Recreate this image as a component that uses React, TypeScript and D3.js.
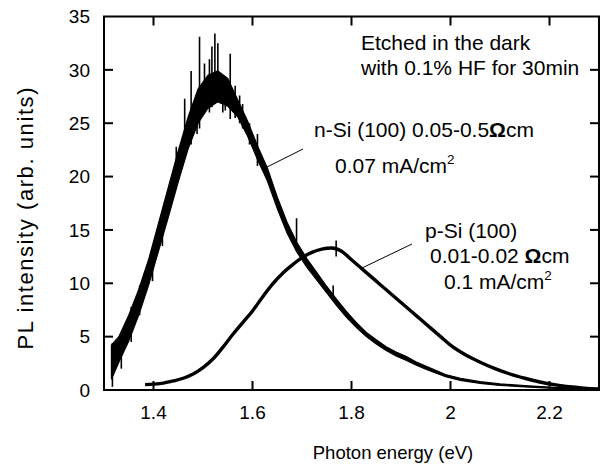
import React from "react";
import * as d3 from "d3";

// ---- data ----
const nSiE = [1.315,1.33,1.35,1.37,1.39,1.41,1.43,1.45,1.47,1.49,1.51,1.53,1.55,1.57,1.59,1.61,1.63,1.65,1.67,1.69,1.71,1.73,1.75,1.77,1.79,1.81,1.83,1.85,1.87,1.89,1.91,1.93,1.95,1.97,1.99,2.02,2.06,2.10,2.15,2.20,2.25,2.30];
const nSiLow = [1.0,2.6,4.6,7.0,9.8,13.0,16.2,19.5,22.6,25.0,26.4,27.0,26.6,25.6,23.8,21.6,19.6,17.0,14.7,12.9,11.5,10.3,9.1,7.9,6.8,5.85,5.0,4.3,3.7,3.2,2.8,2.35,1.95,1.6,1.25,0.9,0.62,0.43,0.29,0.17,0.08,0.02];
const nSiHigh = [4.2,5.0,7.0,9.4,12.2,15.6,19.0,22.4,25.6,28.2,29.5,29.9,29.2,27.2,25.2,22.9,20.8,18.1,15.7,13.8,12.3,11.0,9.7,8.5,7.35,6.3,5.4,4.7,4.05,3.55,3.15,2.65,2.25,1.85,1.45,1.1,0.78,0.57,0.41,0.27,0.16,0.08];

const spikeE = [1.317,1.335,1.355,1.372,1.398,1.418,1.446,1.463,1.476,1.488,1.493,1.503,1.513,1.518,1.524,1.530,1.540,1.545,1.555,1.565,1.574,1.580,1.594,1.610,1.689,1.763,1.769];
const spikeLo = [0.3,2.0,4.5,7.0,10.2,13.5,19.5,22.0,23.0,24.0,24.5,26.0,26.0,26.5,27.0,27.5,26.0,26.2,25.4,25.5,25.0,24.5,23.0,21.0,13.0,8.5,12.5];
const spikeHi = [4.4,5.2,7.8,9.8,13.0,16.4,22.8,27.3,29.9,27.0,33.1,30.6,31.0,32.2,33.4,32.5,29.5,29.0,31.5,28.5,27.6,26.8,25.0,24.0,16.1,9.8,14.0];

const pSiE = [1.383,1.40,1.42,1.44,1.46,1.48,1.50,1.52,1.54,1.56,1.58,1.60,1.62,1.64,1.66,1.68,1.70,1.72,1.74,1.76,1.78,1.80,1.82,1.84,1.86,1.88,1.90,1.92,1.94,1.96,1.98,2.00,2.03,2.06,2.09,2.12,2.15,2.18,2.21,2.24,2.27,2.30];
const pSiI = [0.5,0.55,0.65,0.85,1.1,1.5,2.1,2.9,4.0,5.2,6.3,7.4,8.7,9.9,10.9,11.7,12.4,12.9,13.2,13.3,13.0,12.2,11.4,10.6,9.8,9.0,8.2,7.4,6.6,5.8,5.0,4.2,3.3,2.6,2.0,1.5,1.1,0.75,0.5,0.3,0.18,0.1];

const xTicks = [1.4, 1.6, 1.8, 2.0, 2.2];
const xTickLabels = ["1.4", "1.6", "1.8", "2", "2.2"];
const yTicks = [0, 5, 10, 15, 20, 25, 30, 35];

const FONT = "'Liberation Sans', Arial, sans-serif";

export default function App() {
  const W = 602, H = 468;
  const x = d3.scaleLinear().domain([1.3, 2.3]).range([104, 599]);
  const y = d3.scaleLinear().domain([0, 35]).range([390, 16.5]);

  const nSiData = nSiE.map((e, i) => ({ e, lo: nSiLow[i], hi: nSiHigh[i] }));
  const area = d3.area<any>().x(d => x(d.e)).y0(d => y(d.lo)).y1(d => y(d.hi)).curve(d3.curveLinear);
  const pSiData = pSiE.map((e, i) => ({ e, v: pSiI[i] }));
  const line = d3.line<any>().x(d => x(d.e)).y(d => y(d.v)).curve(d3.curveMonotoneX);

  const [x0, x1] = x.range();
  const [yb, yt] = y.range();
  const tl = 9;
  const AF = 21; // annotation font
  const TF = 19; // tick font

  return (
    <div style={{ position: "absolute", left: 0, top: 0 }}>
      <svg width={W} height={H} style={{ display: "block", background: "#fff" }} fontFamily={FONT}>
        <defs>
          <clipPath id="plot">
            <rect x={x0} y={yt} width={x1 - x0} height={yb - yt} />
          </clipPath>
        </defs>
        <g clipPath="url(#plot)">
          <path d={area(nSiData) || ""} fill="#000" stroke="#000" strokeWidth={1.2} />
          {spikeE.map((e, i) => (
            <line key={i} x1={x(e)} x2={x(e)} y1={y(spikeLo[i])} y2={y(spikeHi[i])} stroke="#000" strokeWidth={1.6} />
          ))}
          <path d={line(pSiData) || ""} fill="none" stroke="#000" strokeWidth={3.4} />
        </g>

        {/* frame */}
        <rect x={x0} y={yt} width={x1 - x0} height={yb - yt} fill="none" stroke="#000" strokeWidth={2} />
        {xTicks.map((t, i) => (
          <g key={"xt" + i}>
            <line x1={x(t)} x2={x(t)} y1={yb} y2={yb - tl} stroke="#000" strokeWidth={2} />
            <line x1={x(t)} x2={x(t)} y1={yt} y2={yt + tl} stroke="#000" strokeWidth={2} />
            <text x={x(t)} y={419} textAnchor="middle" fontSize={TF}>{xTickLabels[i]}</text>
          </g>
        ))}
        {yTicks.map((t, i) => (
          <g key={"yt" + i}>
            {t > 0 && t < 35 && (
              <>
                <line x1={x0} x2={x0 + tl} y1={y(t)} y2={y(t)} stroke="#000" strokeWidth={2} />
                <line x1={x1} x2={x1 - tl} y1={y(t)} y2={y(t)} stroke="#000" strokeWidth={2} />
              </>
            )}
            <text x={90} y={y(t) + 6.8} textAnchor="end" fontSize={TF}>{t}</text>
          </g>
        ))}

        <text x={393} y={459} textAnchor="middle" fontSize={18.5}>Photon energy (eV)</text>
        <text transform="translate(33,218.5) rotate(-90)" textAnchor="middle" fontSize={22} textLength={262} lengthAdjust="spacing">PL intensity (arb. units)</text>

        {/* annotations */}
        <text x={361} y={50} fontSize={AF}>Etched in the dark</text>
        <text x={361} y={75} fontSize={AF}>with 0.1% HF for 30min</text>

        <text x={314} y={137} fontSize={AF}>n-Si (100) 0.05-0.5<tspan fontWeight="bold">Ω</tspan>cm</text>
        <text x={335} y={173} fontSize={AF}>0.07 mA/cm<tspan dy={-9} fontSize={13.5}>2</tspan></text>
        <line x1={303} y1={149} x2={267} y2={167} stroke="#000" strokeWidth={1} />

        <text x={425} y={238} fontSize={AF}>p-Si (100)</text>
        <text x={430} y={263} fontSize={AF}>0.01-0.02 <tspan fontWeight="bold">Ω</tspan>cm</text>
        <text x={444} y={289} fontSize={AF}>0.1 mA/cm<tspan dy={-9} fontSize={13.5}>2</tspan></text>
        <line x1={412} y1={244} x2={362} y2={268} stroke="#000" strokeWidth={1} />
      </svg>
    </div>
  );
}
